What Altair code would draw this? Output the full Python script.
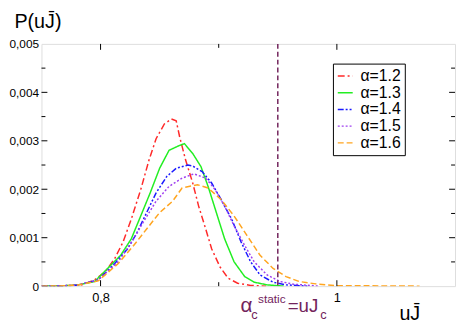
import altair as alt
import pandas as pd

series_names = ["α=1.2", "α=1.3", "α=1.4", "α=1.5", "α=1.6"]
colors = ["#ff2a2a", "#22ee22", "#1a1aff", "#a040f0", "#ffa520"]
dashes = [[7, 3, 2, 3], [1, 0], [6, 2, 2, 2, 2, 2], [2, 2], [6, 3]]

x12 = [0.75, 0.768, 0.784, 0.795, 0.804, 0.812, 0.819, 0.826, 0.834, 0.841, 0.847, 0.854, 0.860, 0.864,
       0.867, 0.872, 0.878, 0.883, 0.889, 0.894, 0.901, 0.908, 0.916, 0.927, 0.94]
y12 = [0, 0.000005, 0.000026, 0.000128, 0.000299, 0.000569, 0.000909, 0.001382, 0.001992, 0.002602,
       0.003043, 0.003348, 0.003449, 0.003415, 0.003075, 0.002602, 0.002128, 0.001652, 0.001179,
       0.000772, 0.0004, 0.000163, 0.000061, 0.000014, 0]

x13 = [0.75, 0.765, 0.78, 0.795, 0.806, 0.817, 0.826, 0.834, 0.842, 0.850, 0.858, 0.867, 0.871, 0.878,
       0.885, 0.891, 0.898, 0.905, 0.913, 0.922, 0.930, 0.941, 0.955]
y13 = [0, 0.000005, 0.00002, 0.0000955, 0.000366, 0.000636, 0.000976, 0.001449, 0.001925, 0.002433,
       0.002805, 0.002906, 0.002941, 0.002738, 0.002465, 0.002059, 0.001518, 0.000976, 0.000502,
       0.000197, 0.000081, 0.000026, 0]

x14 = [0.75, 0.765, 0.78, 0.798, 0.812, 0.823, 0.831, 0.839, 0.847, 0.856, 0.864, 0.874, 0.878, 0.886,
       0.894, 0.902, 0.911, 0.919, 0.927, 0.935, 0.946, 0.957, 0.975]
y14 = [0, 0.000005, 0.00002, 0.000128, 0.000467, 0.000772, 0.001112, 0.001518, 0.001925, 0.002262,
       0.002433, 0.0025, 0.00248, 0.002364, 0.002128, 0.001789, 0.001382, 0.000909, 0.000502,
       0.00023, 0.000081, 0.000026, 0]

x15 = [0.75, 0.765, 0.78, 0.798, 0.815, 0.828, 0.836, 0.847, 0.858, 0.869, 0.879, 0.889, 0.897, 0.905,
       0.913, 0.922, 0.930, 0.941, 0.952, 0.963, 0.985]
y15 = [0, 0.000005, 0.00002, 0.000128, 0.000502, 0.000976, 0.001315, 0.001754, 0.002059, 0.00223,
       0.002317, 0.00223, 0.001992, 0.001652, 0.001246, 0.000839, 0.000502, 0.00023, 0.0000955,
       0.00004, 0]

x16 = [0.75, 0.765, 0.78, 0.798, 0.815, 0.828, 0.839, 0.850, 0.861, 0.869, 0.882, 0.891, 0.902, 0.913,
       0.924, 0.935, 0.946, 0.957, 0.968, 0.982, 1.0, 1.07]
y16 = [0, 0.000005, 0.00002, 0.000108, 0.000467, 0.000839, 0.001179, 0.001518, 0.001754, 0.002026,
       0.002093, 0.002026, 0.001789, 0.001449, 0.001043, 0.000636, 0.000366, 0.000197, 0.0000955,
       0.000047, 0.00001, 0]

all_x = [x12, x13, x14, x15, x16]
all_y = [y12, y13, y14, y15, y16]

critical = 0.95
x_tick_major = [0.8, 1.0]
x_tick_minor = [0.9]
y_tick_major = [0.001, 0.002, 0.003, 0.004]
y_tick_minor = [0.0005, 0.0015, 0.0025, 0.0035, 0.0045]

rows = []
for name, xs, ys in zip(series_names, all_x, all_y):
    for i, (a, b) in enumerate(zip(xs, ys)):
        rows.append({"x": a, "y": b, "series": name, "i": i})
df = pd.DataFrame(rows)

W, H = 420, 246
FONT = "Liberation Sans"
ANN = "#72245c"

xscale = alt.Scale(domain=[0.75, 1.1], nice=False, zero=False)
yscale = alt.Scale(domain=[0, 0.005], nice=False)

legend_cfg = dict(orient="none", legendX=296, legendY=20, strokeColor="black", fillColor="white",
                  padding=4, symbolType="stroke", symbolSize=230, symbolStrokeWidth=1.5,
                  labelFontSize=16, labelFont=FONT, rowPadding=0, title=None, labelOffset=7)

xaxis = alt.Axis(
    values=x_tick_major, ticks=False, domain=False, grid=False,
    labelExpr="datum.value == 1 ? '1' : replace(format(datum.value, '.1f'), '.', ',')",
    labelFontSize=13, labelPadding=6, labelFont=FONT,
    title="uJ\u0304", titleX=363, titleY=34, titleAlign="left", titleBaseline="alphabetic",
    titleFontSize=20, titleFontWeight="normal", titleFont=FONT)
yaxis = alt.Axis(
    values=[0, 0.001, 0.002, 0.003, 0.004, 0.005], ticks=False, domain=False, grid=False,
    labelExpr="datum.value == 0 ? '0' : replace(format(datum.value, '.3f'), '.', ',')",
    labelFontSize=12, labelPadding=3, labelFont=FONT,
    title="P(uJ\u0304)", titleAngle=0, titleX=-28, titleY=-17, titleAlign="left",
    titleBaseline="alphabetic", titleFontSize=20, titleFontWeight="normal", titleFont=FONT)

lines = alt.Chart(df).mark_line(strokeWidth=1.5, clip=True).encode(
    x=alt.X("x:Q", scale=xscale, axis=xaxis),
    y=alt.Y("y:Q", scale=yscale, axis=yaxis),
    color=alt.Color("series:N", scale=alt.Scale(domain=series_names, range=colors),
                    legend=alt.Legend(**legend_cfg)),
    strokeDash=alt.StrokeDash("series:N", scale=alt.Scale(domain=series_names, range=dashes),
                              legend=alt.Legend(**legend_cfg)),
    order=alt.Order("i:Q"),
)

def tick_layer(vals, channel, major):
    L = 6 if major else 4
    if channel in ("xb", "xt"):
        d = pd.DataFrame({"x": vals})
    else:
        d = pd.DataFrame({"y": vals})
    c = alt.Chart(d).mark_rule(color="black", strokeWidth=1)
    if channel == "xb":
        return c.encode(x=alt.X("x:Q", scale=xscale, axis=xaxis), y=alt.value(H), y2=alt.value(H - L))
    if channel == "xt":
        return c.encode(x=alt.X("x:Q", scale=xscale, axis=xaxis), y=alt.value(0), y2=alt.value(L))
    if channel == "yl":
        return c.encode(y=alt.Y("y:Q", scale=yscale, axis=yaxis), x=alt.value(0), x2=alt.value(L))
    return c.encode(y=alt.Y("y:Q", scale=yscale, axis=yaxis), x=alt.value(W), x2=alt.value(W - L))

ticks = [
    tick_layer(x_tick_major, "xb", True), tick_layer(x_tick_minor, "xb", False),
    tick_layer(x_tick_major, "xt", True), tick_layer(x_tick_minor, "xt", False),
    tick_layer(y_tick_major, "yl", True), tick_layer(y_tick_minor, "yl", False),
    tick_layer(y_tick_major, "yr", True), tick_layer(y_tick_minor, "yr", False),
]

crit_df = pd.DataFrame({"x": [critical]})
vline = alt.Chart(crit_df).mark_rule(color=ANN, strokeWidth=1.5, strokeDash=[5, 3]).encode(
    x=alt.X("x:Q", scale=xscale, axis=xaxis))

def ann(text, dx, y, size):
    return alt.Chart(crit_df).mark_text(text=text, dx=dx, align="left", baseline="alphabetic",
                                        fontSize=size, color=ANN, font=FONT).encode(
        x=alt.X("x:Q", scale=xscale, axis=xaxis), y=alt.value(y))

annots = [
    ann("α", -38, 272, 21),
    ann("c", -27, 279, 13),
    ann("static", -20, 263, 12),
    ann("=uJ", 10, 272, 19),
    ann("c", 43, 279, 13),
]

chart = alt.layer(lines, vline, *ticks, *annots).properties(
    width=W, height=H,
    autosize=alt.AutoSizeParams(type="none"),
    padding={"left": 34, "top": 34, "right": 2, "bottom": 37},
).configure_view(stroke="black", strokeWidth=1).configure(font=FONT, background="white")

chart.save("out.html", embed_options={"renderer": "svg", "actions": False})
